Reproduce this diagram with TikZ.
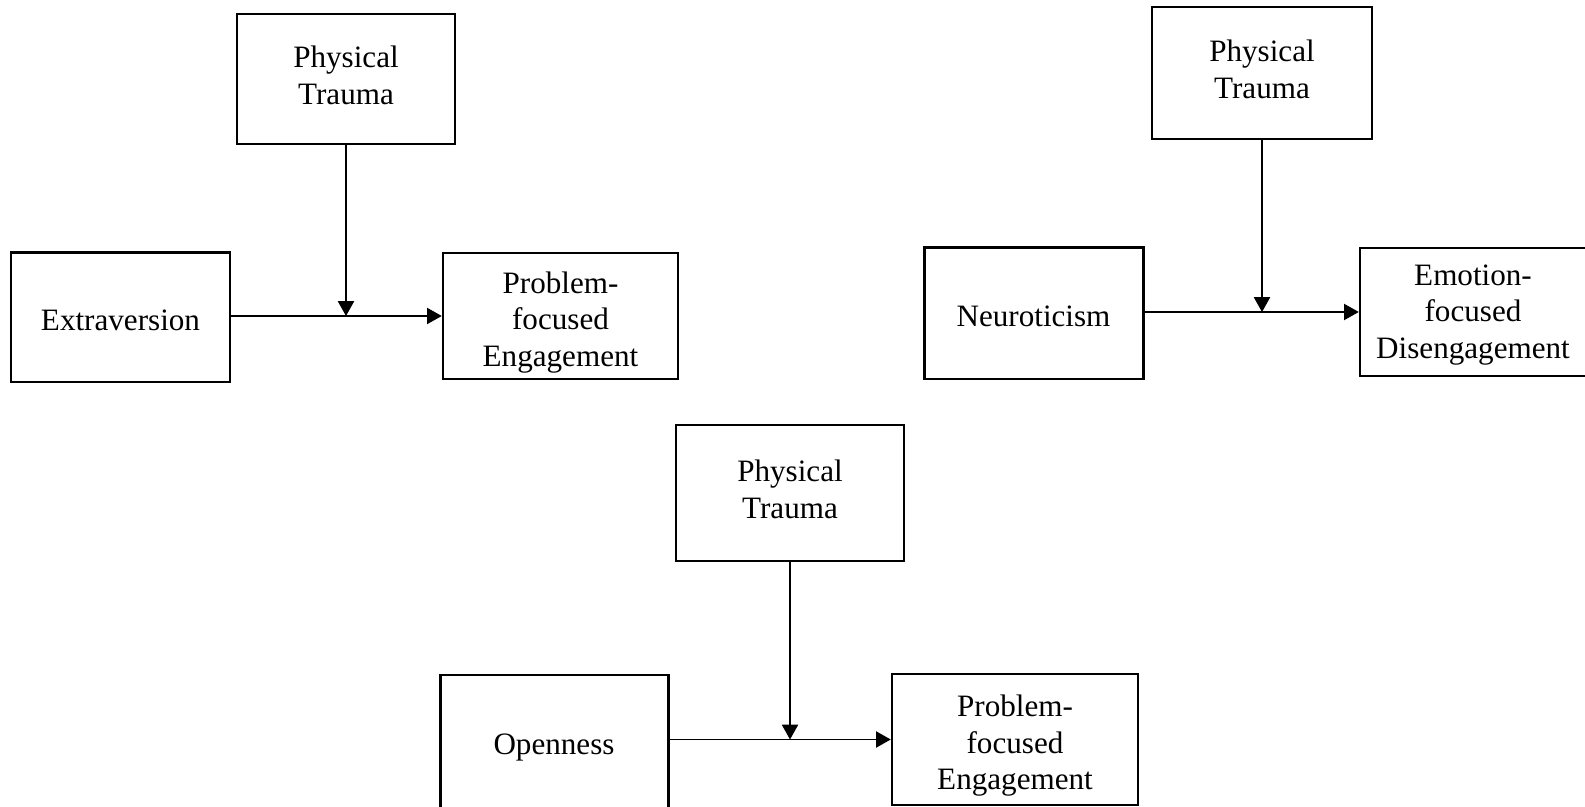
\documentclass[tikz,border=0pt]{standalone}
\usepackage{fontspec}
\setmainfont{Liberation Serif}
\usetikzlibrary{arrows.meta}

\def\px{0.01cm}
\tikzstyle{factor} = [draw, line width=0.6pt, rectangle, align=center, inner sep=0pt,
                      font=\fontsize{8.85}{10.4}\selectfont]
\tikzstyle{trait} = [factor, line width=0.85pt]
\tikzstyle{outcome} = [factor, line width=0.7pt]
\tikzstyle{edge} = [draw, line width=0.45pt, -{Triangle[length=4.2pt,width=4.6pt]}]
\tikzstyle{mod edge} = [draw, line width=0.35pt, -{Triangle[length=4.2pt,width=4.6pt]}]

\begin{document}
\begin{tikzpicture}[x=\px, y=-\px]
       \path[use as bounding box, clip] (0,0) rectangle (1585,807);
       % moderator boxes
       \foreach \pos/\name/\w/\h in {{(346,79)/ptA/218/130}, {(1262,73)/ptB/220/132}, {(790,493)/ptC/228/136}} {
           \node[factor, text depth=2.3pt, minimum width=\w*\px, minimum height=\h*\px] (\name) at \pos {Physical\\Trauma};
       }
       % predictors
       \node[trait, text height=7.2pt, text depth=0pt, minimum width=219*\px, minimum height=129*\px] (extra) at (120.5,317.5) {Extraversion};
       \node[trait, text height=7.2pt, text depth=0pt, minimum width=219*\px, minimum height=131*\px] (neuro) at (1033.5,313.5) {Neuroticism};
       \node[trait, text depth=0.5pt, minimum width=228*\px, minimum height=140*\px] (open) at (554,745) {Openness};
       % outcomes
       \node[outcome, text height=28.6pt, text depth=0pt, minimum width=235*\px, minimum height=126*\px] (pfeA) at (560.5,316) {Problem-\\focused\\Engagement};
       \node[outcome, text depth=0.2pt, minimum width=226*\px, minimum height=128*\px] (efd) at (1473,312) {Emotion-\\focused\\Disengagement};
       \node[outcome, text height=28.6pt, text depth=0pt, minimum width=246*\px, minimum height=131*\px] (pfeC) at (1015,739.5) {Problem-\\focused\\Engagement};
       \foreach \source/\sink/\mod in {extra/pfeA/ptA, neuro/efd/ptB, open/pfeC/ptC} {
           \coordinate (\mod-start) at (\source.east |- \sink.west);
           \path[edge] (\mod-start) -- (\sink.west);
           \coordinate (\mod-end) at (\mod.south |- \sink.west);
           \path[mod edge] (\mod.south) -- (\mod-end);
       }
\end{tikzpicture}
\end{document}
